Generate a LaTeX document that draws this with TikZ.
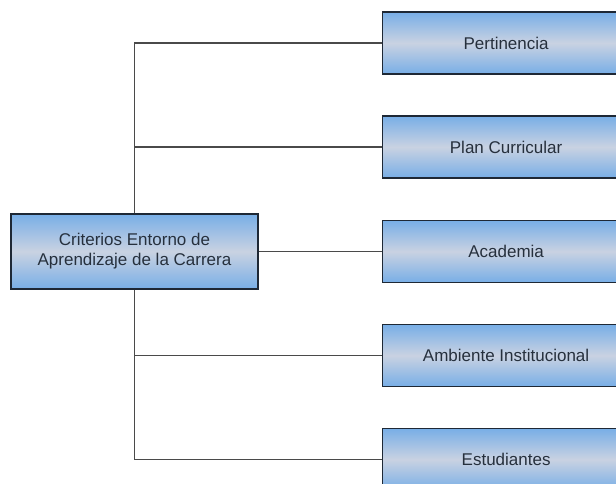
\documentclass[tikz,border=0pt]{standalone}
\usepackage{fontspec}
\setmainfont{Liberation Sans}
\definecolor{boxblue}{HTML}{78AEE6}
\definecolor{boxmid}{HTML}{C9D2E2}
\definecolor{boxedge}{HTML}{1E2835}
\definecolor{textcol}{HTML}{26303D}
\definecolor{linkcol}{HTML}{4A4A4A}
\begin{document}
\begin{tikzpicture}[x=1pt,y=-1pt,
  box/.style={draw=boxedge, line width=1.2pt,
    top color=boxblue, bottom color=boxblue, middle color=boxmid,
    minimum width=247pt, minimum height=62pt, inner sep=0pt,
    align=center, text=textcol, font=\fontsize{17}{20}\selectfont},
  link/.style={draw=linkcol, line width=1.4pt}]
  \useasboundingbox (0,0) rectangle (616,483);
  \clip (0,0) rectangle (616,483);

  % root node
  \node[box, minimum height=75pt] (root) at (134.5,251.5)
    {Criterios Entorno de\\Aprendizaje de la Carrera};

  % criteria
  \node[box, anchor=west] (r1) at (382,43)    {Pertinencia};
  \node[box, anchor=west] (r2) at (382,147)   {Plan Curricular};
  \node[box, anchor=west] (r3) at (382,251.5) {Academia};
  \node[box, anchor=west] (r4) at (382,355.5) {Ambiente Institucional};
  \node[box, anchor=west] (r5) at (382,459.5) {Estudiantes};

  % connectors
  \draw[link] (root.north) |- (r1.west);
  \draw[link] (root.north) |- (r2.west);
  \draw[link] (root.east) -- (r3.west);
  \draw[link] (root.south) |- (r4.west);
  \draw[link] (root.south) |- (r5.west);
\end{tikzpicture}
\end{document}
